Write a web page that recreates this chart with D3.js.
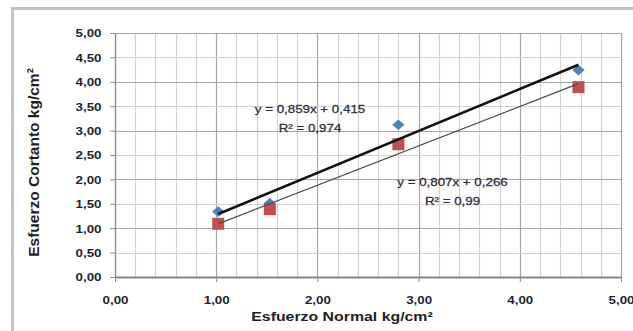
<!DOCTYPE html>
<html>
<head>
<meta charset="utf-8">
<script src="https://cdn.jsdelivr.net/npm/d3@7"></script>
<style>
  html, body { margin: 0; padding: 0; background: #ffffff; }
  svg { display: block; }
</style>
</head>
<body>
<svg id="chart" width="633" height="331"></svg>
<script>
// Measured points: normal stress (x) against shear stress (y), two test series
const normalStress = [1.02, 1.53, 2.80, 4.58];
const shearSeriesA = [1.34, 1.51, 3.12, 4.24];   // blue diamonds
const shearSeriesB = [1.09, 1.39, 2.72, 3.89];   // red squares

// Linear trendlines y = m·x + b, as printed on the chart
const trendSlopes = [0.859, 0.807];
const trendIntercepts = [0.415, 0.266];
const trendEquations = ["y = 0,859x + 0,415", "y = 0,807x + 0,266"];
const trendR2 = ["R² = 0,974", "R² = 0,99"];

// Axis ticks and titles
const xTickValues = [0, 1, 2, 3, 4, 5];
const yTickValues = [0, 0.5, 1, 1.5, 2, 2.5, 3, 3.5, 4, 4.5, 5];
const xTitle = "Esfuerzo Normal kg/cm²";
const yTitle = "Esfuerzo Cortanto kg/cm²";

const svg = d3.select("#chart");
const W = 633, H = 331;
const plot = { left: 115, right: 621, top: 33, bottom: 277 };

const FONT = "'Liberation Sans', Arial, sans-serif";
const STRETCH = 1.27;   // wide lettering used throughout the chart

const comma = d3.formatLocale({ decimal: ",", thousands: ".", grouping: [3], currency: ["", ""] });
const fmt = comma.format(".2f");

const x = d3.scaleLinear().domain([0, 5]).range([plot.left, plot.right]);
const y = d3.scaleLinear().domain([0, 5]).range([plot.bottom, plot.top]);

// Chart frame
svg.append("rect").attr("width", W).attr("height", H).attr("fill", "#ffffff");
svg.append("rect")
  .attr("x", 12.5).attr("y", 8.5).attr("width", 640).attr("height", 340)
  .attr("fill", "none").attr("stroke", "#c3c3c3").attr("stroke-width", 3);

// Grid: light minor verticals every 0,2, darker at whole units; horizontals every 0,5
const grid = svg.append("g");
d3.range(0, 5.0001, 0.2).forEach(v => {
  const major = Math.abs(v - Math.round(v)) < 1e-6;
  grid.append("line")
    .attr("x1", Math.round(x(v)) + 0.5).attr("x2", Math.round(x(v)) + 0.5)
    .attr("y1", plot.top).attr("y2", plot.bottom)
    .attr("stroke", major ? "#a6a6a6" : "#d3d3d3").attr("stroke-width", 1.2);
});
yTickValues.forEach(v => {
  const major = Math.abs(v - Math.round(v)) < 1e-6;
  grid.append("line")
    .attr("x1", plot.left).attr("x2", plot.right)
    .attr("y1", Math.round(y(v)) + 0.5).attr("y2", Math.round(y(v)) + 0.5)
    .attr("stroke", major ? "#a6a6a6" : "#d3d3d3").attr("stroke-width", 1.2);
});

// Axes
const yAxis = svg.append("g")
  .attr("transform", `translate(${plot.left},0)`)
  .call(d3.axisLeft(y).tickValues(yTickValues).tickSize(5).tickSizeOuter(0).tickFormat(fmt));
const xAxis = svg.append("g")
  .attr("transform", `translate(0,${plot.bottom})`)
  .call(d3.axisBottom(x).tickValues(xTickValues).tickSize(5).tickSizeOuter(0).tickFormat(fmt));

yAxis.select(".domain").attr("stroke", "#8c8c8c").attr("stroke-width", 1.2);
xAxis.select(".domain").attr("stroke", "#868686").attr("stroke-width", 2.2);
svg.selectAll(".tick line").attr("stroke", "#8c8c8c").attr("stroke-width", 1);

yAxis.selectAll(".tick text")
  .attr("x", null).attr("dy", null)
  .attr("transform", `translate(-13.5,3.8) scale(${STRETCH},1)`)
  .attr("text-anchor", "end")
  .attr("font-family", FONT).attr("font-size", 10.5).attr("font-weight", "bold")
  .attr("fill", "#1f2233");
xAxis.selectAll(".tick text")
  .attr("y", null).attr("dy", null)
  .attr("transform", `translate(0,27) scale(${STRETCH},1)`)
  .attr("text-anchor", "middle")
  .attr("font-family", FONT).attr("font-size", 10.5).attr("font-weight", "bold")
  .attr("fill", "#1f2233");

// Trendlines span the measured range of x
const xMin = d3.min(normalStress), xMax = d3.max(normalStress);
const trendStyles = [
  { stroke: "#111111", width: 2.6 },
  { stroke: "#4a4a4a", width: 1.2 }
];

// Markers
const diamond = d3.symbol().type(d3.symbolDiamond2).size(72);
svg.append("g").selectAll("path")
  .data(normalStress.map((v, i) => [v, shearSeriesA[i]]))
  .join("path")
  .attr("d", diamond)
  .attr("transform", d => `translate(${x(d[0])},${y(d[1])}) scale(1.15,1)`)
  .attr("fill", "#4f81bd");

const side = 12;
svg.append("g").selectAll("rect")
  .data(normalStress.map((v, i) => [v, shearSeriesB[i]]))
  .join("rect")
  .attr("x", d => x(d[0]) - side / 2).attr("y", d => y(d[1]) - side / 2)
  .attr("width", side).attr("height", side)
  .attr("fill", "#c0504d");

const line = d3.line().x(d => x(d[0])).y(d => y(d[1]));
trendSlopes.forEach((m, i) => {
  const b = trendIntercepts[i];
  svg.append("path")
    .datum([[xMin, m * xMin + b], [xMax, m * xMax + b]])
    .attr("d", line)
    .attr("fill", "none")
    .attr("stroke", trendStyles[i].stroke)
    .attr("stroke-width", trendStyles[i].width);
});

// Trendline equation labels
function stretchedText(px, py, str, size, weight, color, outline) {
  const t = svg.append("text")
    .attr("transform", `translate(${px},${py}) scale(${STRETCH},1)`)
    .attr("text-anchor", "middle")
    .attr("font-family", FONT).attr("font-size", size).attr("font-weight", weight)
    .attr("fill", color)
    .text(str);
  if (outline) t.attr("stroke", color).attr("stroke-width", outline);
  return t;
}
const labelSpots = [
  { cx: 310, eqY: 113, r2Y: 131.5 },
  { cx: 452.5, eqY: 186, r2Y: 205 }
];
labelSpots.forEach((p, i) => {
  stretchedText(p.cx, p.eqY, trendEquations[i], 10.5, "normal", "#2c2f3c", 0.25);
  stretchedText(p.cx, p.r2Y, trendR2[i], 10.5, "normal", "#2c2f3c", 0.25);
});

// Axis titles
stretchedText(342, 321, xTitle, 12.5, "bold", "#1f1f1f");
svg.append("text")
  .attr("transform", "translate(39,162.5) rotate(-90)")
  .attr("text-anchor", "middle")
  .attr("font-family", FONT).attr("font-size", 15.5).attr("font-weight", "bold")
  .attr("fill", "#1f1f1f")
  .text(yTitle);
</script>
</body>
</html>
